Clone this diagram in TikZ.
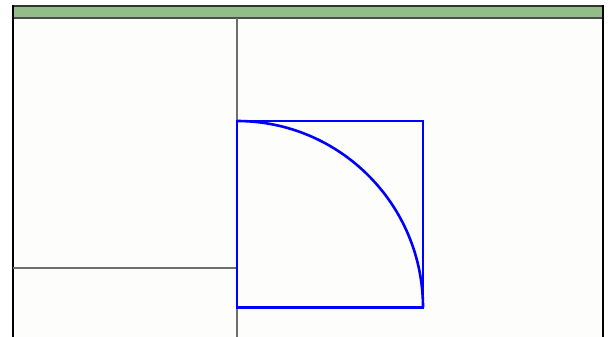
\documentclass[tikz,border=0pt]{standalone}
\definecolor{bargreen}{RGB}{146,188,136}
\definecolor{bgwhite}{RGB}{253,253,251}
\definecolor{axisgray}{RGB}{110,110,110}
\tikzset{
  frameline/.style={black, line width=2.4pt},
  axisline/.style={axisgray, line width=1.3pt},
  shapeline/.style={blue, line width=2.6pt},
}
\begin{document}
\begin{tikzpicture}[x=1pt,y=-1pt]
\useasboundingbox (0,0) rectangle (611,337);
\fill[white] (0,0) rectangle (611,337);
\fill[bgwhite] (13,18) rectangle (603,337);
% top bar
\fill[bargreen] (13,6) rectangle (603,18);
\draw[black!80, line width=1.4pt] (13,6) -- (603,6);
\draw[black!70, line width=1.8pt] (13,18) -- (603,18);
% side borders
\draw[frameline] (13,5) -- (13,337);
\draw[frameline] (603,5) -- (603,337);
% axes
\coordinate (vtop) at (237,18);
\coordinate (vbot) at (237,337);
\coordinate (hl) at (13,268);
\coordinate (hr) at (237,268);
\draw[axisline] (vtop) -- (vbot);
\draw[axisline] (hl) -- (hr);
% square and arc
\coordinate (tl) at (237,121);
\coordinate (tr) at (423,121);
\coordinate (br) at (423,307.5);
\coordinate (bl) at (237,307.5);
\draw[shapeline] (tl) -- (tr) -- (br) -- (bl) -- cycle;
\draw[shapeline] (tl) arc[start angle=90, end angle=0, x radius=186, y radius=-186.5];
\end{tikzpicture}
\end{document}
